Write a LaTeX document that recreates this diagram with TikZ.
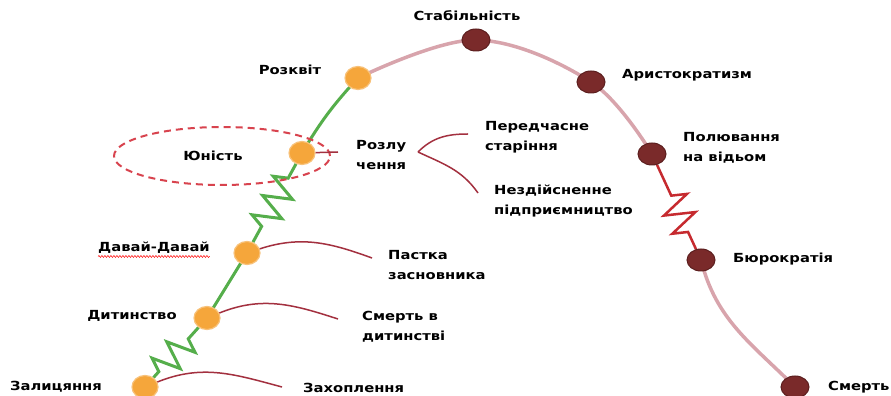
\documentclass[tikz,border=0pt]{standalone}
\usepackage{fontspec}
\newfontfamily\lblfont[FakeStretch=1.18]{DejaVu Sans}
\usetikzlibrary{shapes.geometric,decorations.pathmorphing,positioning}
\pgfdeclarelayer{bg}
\pgfsetlayers{bg,main}
\definecolor{dotorange}{HTML}{F5A63B}
\definecolor{dotorangeedge}{HTML}{F8C27A}
\definecolor{dotred}{HTML}{7A2A2A}
\definecolor{dotrededge}{HTML}{5C1F1F}
\definecolor{lifegreen}{HTML}{55AE4B}
\definecolor{lifepink}{HTML}{D8A4AC}
\definecolor{agered}{HTML}{C62A2F}
\definecolor{trapred}{HTML}{A3303F}
\definecolor{ringred}{HTML}{D8434E}

\begin{document}
\begin{tikzpicture}[x=1pt,y=1pt,
    lbl/.style={font=\lblfont\bfseries\fontsize{12.5}{20}\selectfont, inner sep=0pt, align=left},
    odot/.style={ellipse, fill=dotorange, draw=dotorangeedge, line width=1.2pt,
                 minimum width=26pt, minimum height=23pt, inner sep=0pt},
    rdot/.style={ellipse, fill=dotred, draw=dotrededge, line width=1pt,
                 minimum width=28pt, minimum height=22pt, inner sep=0pt},
    growth/.style={draw=lifegreen, line width=3pt},
    decline/.style={draw=lifepink, line width=3.5pt},
    trap/.style={draw=trapred, line width=1.5pt},
    spring/.style args={#1 and #2}{decorate, decoration={zigzag, segment length=22pt,
                 amplitude=14pt, pre length=#1, post length=#2}}]
    \useasboundingbox (0,0) rectangle (891,396);

    % Stages
    \node[odot] (zal) at (145,9) {};
    \node[odot] (dyt) at (207,78) {};
    \node[odot] (davai) at (247,143) {};
    \node[odot] (yun) at (302,243) {};
    \node[odot] (rozkvit) at (358,318) {};
    \node[rdot] (stab) at (476,356) {};
    \node[rdot] (aryst) at (591,314) {};
    \node[rdot] (polyuv) at (652,242) {};
    \node[rdot] (byurok) at (701,136) {};
    \node[rdot] (smert) at (795,9) {};

    % Stage labels
    \node[lbl] (zalL) at (56,9) {Залицяння};
    \node[lbl] (dytL) at (132,80) {Дитинство};
    \node[lbl] (davaiL) at (154,148) {Давай-Давай};
    \node[lbl] (yunL) at (213,240) {Юність};
    \node[lbl] (rozkvitL) at (290,326) {Розквіт};
    \node[lbl] (stabL) at (467,380) {Стабільність};
    \node[lbl, anchor=west] (arystL) at (622,321) {Аристократизм};
    \node[lbl, anchor=west] (polyuvL) at (683,248) {Полювання\\на відьом};
    \node[lbl, anchor=west] (byurokL) at (733,137) {Бюрократія};
    \node[lbl, anchor=west] (smertL) at (828,9) {Смерть};
    \draw[red, line width=0.5pt, decorate, decoration={snake, amplitude=1pt, segment length=3pt}]
        ([yshift=-2.5pt]davaiL.south west) -- ([yshift=-2.5pt]davaiL.south east);

    \begin{pgfonlayer}{bg}
    \fill[white] (0,0) rectangle (891,396);
    % Growth curve
    \draw[growth, spring=8pt and 10pt] (zal) -- (dyt);
    \draw[growth] (dyt.center) -- (davai.center);
    \draw[growth, spring=18pt and 16pt] (davai) -- (yun);
    \draw[growth] (yun.center) to[bend left=6] (rozkvit.center);

    % Ageing curve
    \draw[decline] plot[smooth, tension=0.6] coordinates
        {(rozkvit.center) (stab.center) (aryst.center) (polyuv.center)};
    \draw[draw=agered, line width=2.5pt, decorate, decoration={zigzag, segment length=20pt,
          amplitude=15pt, pre length=34pt, post length=17pt}] (polyuv) -- (byurok);
    \draw[decline] (byurok.center) to[out=-76,in=135] (smert.center);
    \end{pgfonlayer}

    % Ring round youth
    \draw[ringred, line width=2pt, dash pattern=on 7pt off 5pt] (222,240) ellipse [x radius=108, y radius=29];

    % Traps
    \coordinate (zahE) at (282,9);
    \coordinate (dytE) at (338,77);
    \coordinate (pastE) at (372,138);
    \coordinate (razlE) at (338,244);
    \coordinate (fork) at (418,244);
    \coordinate (peredE) at (468,262);
    \coordinate (nezdE) at (478,203);
    \draw[trap] (zal) to[out=22,in=165] (zahE);
    \draw[trap] (dyt) to[out=22,in=162] (dytE);
    \draw[trap] (davai) to[out=18,in=160] (pastE);
    \draw[trap] (yun) -- (razlE);
    \draw[trap] (fork) to[out=45,in=180] (peredE);
    \draw[trap] (fork) to[out=-25,in=125] (nezdE);

    % Trap labels
    \node[lbl, anchor=west] (zahL) at (303,8) {Захоплення};
    \node[lbl, anchor=west] (smertDytL) at (362,69) {Смерть в\\дитинстві};
    \node[lbl, anchor=west] (pastkaL) at (388,131) {Пастка\\засновника};
    \node[lbl, anchor=west] (razlL) at (356,241) {Розлу\\чення};
    \node[lbl, anchor=west] (peredL) at (485,259) {Передчасне\\старіння};
    \node[lbl, anchor=west] (nezdL) at (494,195) {Нездійсненне\\підприємництво};
\end{tikzpicture}
\end{document}
